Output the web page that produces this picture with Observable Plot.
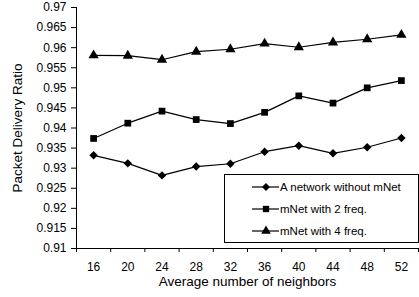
<!DOCTYPE html>
<html><head><meta charset="utf-8">
<script src="https://cdn.jsdelivr.net/npm/d3@7"></script>
<script src="https://cdn.jsdelivr.net/npm/@observablehq/plot@0.6"></script>
<style>
body{margin:0;background:#fff;font-family:"Liberation Sans",Arial,sans-serif;}
#wrap{position:relative;width:419px;height:297px;}
#legend{position:absolute;left:224px;top:174px;width:195px;height:69px;border:1px solid #000;box-sizing:border-box;background:#fff;font-size:11.5px;}
#legend .row{position:absolute;left:27px;height:14px;display:flex;align-items:center;}
#legend svg{display:block;}
</style></head>
<body><div id="wrap"><div id="chart"></div><div id="legend"></div></div>
<script>
const neighbors = [16, 20, 24, 28, 32, 36, 40, 44, 48, 52];
const seriesNames = ["A network without mNet", "mNet with 2 freq.", "mNet with 4 freq."];
const withoutMNet = [0.9332, 0.9312, 0.9282, 0.9304, 0.9311, 0.9341, 0.9356, 0.9337, 0.9352, 0.9375];
const mNet2 = [0.9374, 0.9412, 0.9442, 0.9421, 0.9411, 0.9439, 0.9480, 0.9462, 0.9500, 0.9518];
const mNet4 = [0.9581, 0.9580, 0.9570, 0.9590, 0.9596, 0.9610, 0.9601, 0.9613, 0.9621, 0.9632];
const yTicks = [0.91, 0.915, 0.92, 0.925, 0.93, 0.935, 0.94, 0.945, 0.95, 0.955, 0.96, 0.965, 0.97];
const xBoundaries = [14, 18, 22, 26, 30, 34, 38, 42, 46, 50, 54];
const symbols = ["diamond2", "square", "triangle"];

const rows = [];
[withoutMNet, mNet2, mNet4].forEach((vals, s) => {
  vals.forEach((v, i) => rows.push({series: seriesNames[s], x: neighbors[i], y: v, sym: symbols[s]}));
});

const chart = Plot.plot({
  width: 419, height: 297,
  marginLeft: 76, marginRight: 1, marginTop: 7, marginBottom: 49,
  style: {fontFamily: '"Liberation Sans", Arial, sans-serif', fontSize: "12px", color: "#000", background: "#fff"},
  x: {domain: [14, 54]},
  y: {domain: [0.91, 0.97]},
  symbol: {domain: symbols, range: symbols},
  marks: [
    Plot.ruleX([14], {stroke: "#000"}),
    Plot.ruleY([0.91], {stroke: "#000"}),
    Plot.axisY({ticks: yTicks, tickSize: 5, tickPadding: 5, tickFormat: d => String(+d.toFixed(3)), label: null, fontSize: 12}),
    Plot.axisY({ticks: [], label: "Packet Delivery Ratio", labelAnchor: "center", labelArrow: "none", labelOffset: 64, fontSize: 13.5}),
    Plot.axisX({ticks: xBoundaries, tickSize: 4, tickFormat: () => "", label: null}),
    Plot.axisX({ticks: neighbors, tickSize: 0, tickPadding: 14, label: null, fontSize: 12}),
    Plot.axisX({ticks: [], label: "Average number of neighbors", labelAnchor: "center", labelArrow: "none", labelOffset: 37, fontSize: 13.5}),
    Plot.line(rows, {x: "x", y: "y", z: "series", stroke: "#000", strokeWidth: 1.2}),
    Plot.dot(rows, {x: "x", y: "y", symbol: "sym", fill: "#000", stroke: "none", r: 3.8})
  ]
});
document.getElementById("chart").appendChild(chart);

const leg = document.getElementById("legend");
const tops = [5, 27, 49];
seriesNames.forEach((name, i) => {
  const row = document.createElement("div");
  row.className = "row";
  row.style.top = tops[i] + "px";
  const sym = d3.symbol().type([d3.symbolDiamond2, d3.symbolSquare, d3.symbolTriangle][i]).size(40)();
  row.innerHTML = `<svg width="27" height="14"><line x1="0" x2="27" y1="7" y2="7" stroke="#000" stroke-width="1.2"/><path d="${sym}" transform="translate(14,7)" fill="#000"/></svg><span style="margin-left:1px">${name}</span>`;
  leg.appendChild(row);
});
</script></body></html>
